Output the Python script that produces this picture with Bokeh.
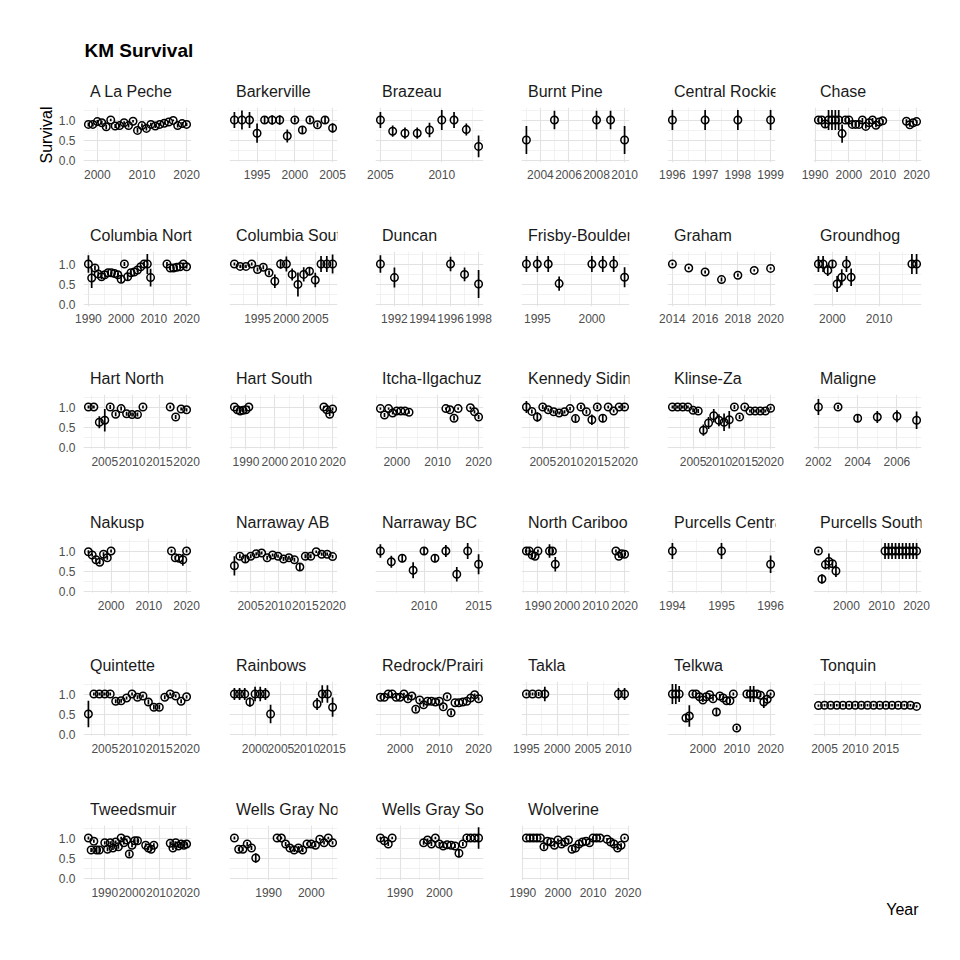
from bokeh.plotting import figure
from bokeh.layouts import row, column
from bokeh.models import Range1d, FixedTicker, PrintfTickFormatter
from bokeh.core.properties import value
from bokeh.embed import file_html
from bokeh.resources import INLINE

# ---------------- data ----------------
A_LA_PECHE_YEAR = [1998, 1999, 2000, 2001, 2002, 2003, 2004, 2005, 2006, 2007, 2008, 2009, 2010, 2011, 2012, 2013, 2014, 2015, 2016, 2017, 2018, 2019, 2020]
A_LA_PECHE_SURV = [0.89, 0.89, 0.96, 0.93, 0.83, 1.00, 0.85, 0.86, 0.93, 0.86, 0.97, 0.74, 0.86, 0.79, 0.89, 0.85, 0.89, 0.92, 0.95, 0.99, 0.86, 0.91, 0.89]
A_LA_PECHE_ERR = [0.05, 0.05, 0.04, 0.05, 0.06, 0.03, 0.05, 0.05, 0.04, 0.05, 0.03, 0.06, 0.05, 0.05, 0.04, 0.05, 0.04, 0.04, 0.03, 0.02, 0.05, 0.04, 0.04]

BARKERVILLE_YEAR = [1992, 1993, 1994, 1995, 1996, 1997, 1998, 1999, 2000, 2001, 2002, 2003, 2004, 2005]
BARKERVILLE_SURV = [1.00, 1.00, 1.00, 0.67, 1.00, 1.00, 1.00, 0.60, 1.00, 0.75, 1.00, 0.88, 1.00, 0.80]
BARKERVILLE_ERR = [0.20, 0.24, 0.20, 0.24, 0.10, 0.12, 0.12, 0.16, 0.06, 0.10, 0.06, 0.06, 0.08, 0.12]

BRAZEAU_YEAR = [2005, 2006, 2007, 2008, 2009, 2010, 2011, 2012, 2013]
BRAZEAU_SURV = [1.00, 0.72, 0.67, 0.67, 0.75, 1.00, 1.00, 0.76, 0.34]
BRAZEAU_ERR = [0.20, 0.14, 0.14, 0.14, 0.18, 0.25, 0.20, 0.15, 0.27]

BURNT_PINE_YEAR = [2003, 2005, 2008, 2009, 2010]
BURNT_PINE_SURV = [0.50, 1.00, 1.00, 1.00, 0.50]
BURNT_PINE_ERR = [0.35, 0.23, 0.23, 0.23, 0.35]

CENTRAL_ROCKIES_YEAR = [1996, 1997, 1998, 1999]
CENTRAL_ROCKIES_SURV = [1.00, 1.00, 1.00, 1.00]
CENTRAL_ROCKIES_ERR = [0.25, 0.25, 0.25, 0.25]

CHASE_YEAR = [1991, 1992, 1993, 1994, 1995, 1996, 1997, 1998, 1999, 2000, 2001, 2002, 2003, 2004, 2005, 2006, 2007, 2008, 2009, 2010, 2017, 2018, 2019, 2020]
CHASE_SURV = [1.00, 1.00, 0.90, 1.00, 1.00, 1.00, 1.00, 0.66, 1.00, 1.00, 0.89, 0.89, 0.89, 1.00, 0.84, 0.93, 1.00, 0.87, 0.95, 0.98, 0.97, 0.88, 0.93, 0.96]
CHASE_ERR = [0.05, 0.05, 0.08, 0.25, 0.25, 0.25, 0.25, 0.23, 0.05, 0.05, 0.05, 0.05, 0.05, 0.05, 0.05, 0.05, 0.05, 0.05, 0.05, 0.04, 0.05, 0.05, 0.04, 0.04]

COLUMBIA_NORTH_YEAR = [1990, 1991, 1992, 1993, 1994, 1995, 1996, 1997, 1998, 1999, 2000, 2001, 2002, 2003, 2004, 2005, 2006, 2007, 2008, 2009, 2014, 2015, 2016, 2017, 2018, 2019, 2020]
COLUMBIA_NORTH_SURV = [1.00, 0.65, 0.90, 0.75, 0.68, 0.73, 0.78, 0.78, 0.76, 0.73, 0.62, 1.00, 0.68, 0.78, 0.80, 0.85, 0.93, 1.00, 1.00, 0.66, 1.00, 0.90, 0.90, 0.92, 0.93, 1.00, 0.93]
COLUMBIA_NORTH_ERR = [0.22, 0.25, 0.06, 0.06, 0.06, 0.05, 0.05, 0.05, 0.05, 0.05, 0.08, 0.05, 0.08, 0.06, 0.05, 0.05, 0.05, 0.05, 0.25, 0.22, 0.05, 0.05, 0.04, 0.04, 0.04, 0.04, 0.04]

COLUMBIA_SOUTH_YEAR = [1991, 1992, 1993, 1994, 1995, 1996, 1997, 1998, 1999, 2000, 2001, 2002, 2003, 2004, 2005, 2006, 2007, 2008]
COLUMBIA_SOUTH_SURV = [1.00, 0.94, 0.94, 1.00, 0.86, 0.92, 0.78, 0.57, 1.00, 1.00, 0.74, 0.49, 0.74, 0.82, 0.60, 1.00, 1.00, 1.00]
COLUMBIA_SOUTH_ERR = [0.04, 0.04, 0.04, 0.04, 0.05, 0.05, 0.06, 0.17, 0.12, 0.19, 0.15, 0.30, 0.18, 0.10, 0.18, 0.20, 0.20, 0.24]

DUNCAN_YEAR = [1991, 1992, 1996, 1997, 1998]
DUNCAN_SURV = [1.00, 0.66, 1.00, 0.74, 0.50]
DUNCAN_ERR = [0.22, 0.25, 0.18, 0.17, 0.35]

FRISBY_BOULDER_YEAR = [1994, 1995, 1996, 1997, 2000, 2001, 2002, 2003]
FRISBY_BOULDER_SURV = [1.00, 1.00, 1.00, 0.51, 1.00, 1.00, 1.00, 0.67]
FRISBY_BOULDER_ERR = [0.20, 0.20, 0.20, 0.18, 0.20, 0.20, 0.20, 0.25]

GRAHAM_YEAR = [2014, 2015, 2016, 2017, 2018, 2019, 2020]
GRAHAM_SURV = [1.00, 0.90, 0.80, 0.61, 0.72, 0.84, 0.89]
GRAHAM_ERR = [0.03, 0.03, 0.04, 0.05, 0.04, 0.03, 0.03]

GROUNDHOG_YEAR = [1997, 1998, 1999, 2000, 2001, 2002, 2003, 2004, 2017, 2018]
GROUNDHOG_SURV = [1.00, 1.00, 0.84, 1.00, 0.50, 0.67, 1.00, 0.67, 1.00, 1.00]
GROUNDHOG_ERR = [0.20, 0.20, 0.14, 0.10, 0.20, 0.20, 0.20, 0.22, 0.25, 0.25]

HART_NORTH_YEAR = [2002, 2003, 2004, 2005, 2006, 2007, 2008, 2009, 2010, 2011, 2012, 2017, 2018, 2019, 2020]
HART_NORTH_SURV = [1.00, 1.00, 0.62, 0.67, 1.00, 0.82, 0.96, 0.83, 0.81, 0.81, 1.00, 1.00, 0.75, 0.95, 0.93]
HART_NORTH_ERR = [0.04, 0.04, 0.15, 0.28, 0.05, 0.05, 0.05, 0.05, 0.05, 0.05, 0.04, 0.04, 0.05, 0.04, 0.04]

HART_SOUTH_YEAR = [1986, 1987, 1988, 1989, 1990, 1991, 2017, 2018, 2019, 2020]
HART_SOUTH_SURV = [1.00, 0.93, 0.90, 0.92, 0.93, 1.00, 1.00, 0.93, 0.82, 0.95]
HART_SOUTH_ERR = [0.03, 0.04, 0.04, 0.04, 0.04, 0.03, 0.03, 0.04, 0.05, 0.04]

ITCHA_YEAR = [1996, 1997, 1998, 1999, 2000, 2001, 2002, 2003, 2012, 2013, 2014, 2015, 2018, 2019, 2020]
ITCHA_SURV = [0.96, 0.80, 0.96, 0.85, 0.90, 0.90, 0.90, 0.87, 0.96, 0.93, 0.72, 0.96, 0.98, 0.88, 0.75]
ITCHA_ERR = [0.03, 0.05, 0.03, 0.04, 0.04, 0.04, 0.04, 0.04, 0.03, 0.04, 0.06, 0.03, 0.03, 0.04, 0.05]

KENNEDY_YEAR = [2002, 2003, 2004, 2005, 2006, 2007, 2008, 2009, 2010, 2011, 2012, 2013, 2014, 2015, 2016, 2017, 2018, 2019, 2020]
KENNEDY_SURV = [1.00, 0.89, 0.75, 1.00, 0.93, 0.88, 0.85, 0.88, 0.96, 0.71, 1.00, 0.88, 0.68, 1.00, 0.72, 1.00, 0.90, 1.00, 1.00]
KENNEDY_ERR = [0.15, 0.05, 0.12, 0.05, 0.04, 0.04, 0.04, 0.04, 0.04, 0.08, 0.05, 0.05, 0.13, 0.05, 0.10, 0.04, 0.04, 0.03, 0.03]

KLINSE_ZA_YEAR = [2001, 2002, 2003, 2004, 2005, 2006, 2007, 2008, 2009, 2010, 2011, 2012, 2013, 2014, 2015, 2016, 2017, 2018, 2019, 2020]
KLINSE_ZA_SURV = [1.00, 1.00, 1.00, 1.00, 0.92, 0.90, 0.42, 0.60, 0.78, 0.67, 0.62, 0.68, 1.00, 0.75, 1.00, 0.90, 0.90, 0.90, 0.90, 0.97]
KLINSE_ZA_ERR = [0.04, 0.04, 0.04, 0.04, 0.05, 0.05, 0.14, 0.15, 0.17, 0.15, 0.22, 0.22, 0.05, 0.05, 0.04, 0.04, 0.04, 0.04, 0.04, 0.04]

MALIGNE_YEAR = [2002, 2003, 2004, 2005, 2006, 2007]
MALIGNE_SURV = [1.00, 1.00, 0.72, 0.75, 0.77, 0.67]
MALIGNE_ERR = [0.20, 0.05, 0.10, 0.15, 0.15, 0.22]

NAKUSP_YEAR = [1994, 1995, 1996, 1997, 1998, 1999, 2000, 2016, 2017, 2018, 2019, 2020]
NAKUSP_SURV = [0.98, 0.90, 0.78, 0.72, 0.92, 0.83, 1.00, 1.00, 0.83, 0.82, 0.78, 1.00]
NAKUSP_ERR = [0.04, 0.04, 0.05, 0.05, 0.05, 0.05, 0.04, 0.04, 0.05, 0.05, 0.15, 0.04]

NARRAWAY_AB_YEAR = [2002, 2003, 2004, 2005, 2006, 2007, 2008, 2009, 2010, 2011, 2012, 2013, 2014, 2015, 2016, 2017, 2018, 2019, 2020]
NARRAWAY_AB_SURV = [0.63, 0.87, 0.80, 0.87, 0.93, 0.95, 0.83, 0.90, 0.87, 0.80, 0.83, 0.78, 0.60, 0.87, 0.87, 0.98, 0.92, 0.92, 0.86]
NARRAWAY_AB_ERR = [0.24, 0.05, 0.10, 0.05, 0.04, 0.04, 0.05, 0.04, 0.04, 0.05, 0.05, 0.05, 0.10, 0.05, 0.05, 0.03, 0.04, 0.04, 0.04]

NARRAWAY_BC_YEAR = [2006, 2007, 2008, 2009, 2010, 2011, 2012, 2013, 2014, 2015]
NARRAWAY_BC_SURV = [1.00, 0.73, 0.82, 0.52, 1.00, 0.82, 1.00, 0.42, 1.00, 0.67]
NARRAWAY_BC_ERR = [0.17, 0.15, 0.10, 0.20, 0.08, 0.10, 0.15, 0.18, 0.20, 0.25]

NORTH_CARIBOO_YEAR = [1986, 1987, 1988, 1989, 1990, 1994, 1995, 1996, 2017, 2018, 2019, 2020]
NORTH_CARIBOO_SURV = [1.00, 1.00, 0.90, 0.87, 1.00, 1.00, 1.00, 0.67, 1.00, 0.87, 0.93, 0.92]
NORTH_CARIBOO_ERR = [0.04, 0.04, 0.06, 0.05, 0.04, 0.17, 0.05, 0.18, 0.04, 0.04, 0.04, 0.04]

PURCELLS_CENTRAL_YEAR = [1994, 1995, 1996]
PURCELLS_CENTRAL_SURV = [1.00, 1.00, 0.67]
PURCELLS_CENTRAL_ERR = [0.20, 0.20, 0.22]

PURCELLS_SOUTH_YEAR = [1992, 1993, 1994, 1995, 1996, 1997, 2011, 2012, 2013, 2014, 2015, 2016, 2017, 2018, 2019, 2020]
PURCELLS_SOUTH_SURV = [1.00, 0.30, 0.66, 0.74, 0.68, 0.50, 1.00, 1.00, 1.00, 1.00, 1.00, 1.00, 1.00, 1.00, 1.00, 1.00]
PURCELLS_SOUTH_ERR = [0.04, 0.12, 0.12, 0.20, 0.10, 0.15, 0.20, 0.20, 0.20, 0.20, 0.20, 0.20, 0.20, 0.20, 0.20, 0.20]

QUINTETTE_YEAR = [2002, 2003, 2004, 2005, 2006, 2007, 2008, 2009, 2010, 2011, 2012, 2013, 2014, 2015, 2016, 2017, 2018, 2019, 2020]
QUINTETTE_SURV = [0.50, 1.00, 1.00, 1.00, 1.00, 0.82, 0.83, 0.90, 1.00, 0.92, 0.95, 0.80, 0.67, 0.67, 0.92, 1.00, 0.95, 0.82, 0.93]
QUINTETTE_ERR = [0.33, 0.04, 0.04, 0.04, 0.04, 0.05, 0.05, 0.04, 0.04, 0.05, 0.04, 0.06, 0.06, 0.06, 0.05, 0.04, 0.04, 0.05, 0.04]

RAINBOWS_YEAR = [1996, 1997, 1998, 1999, 2000, 2001, 2002, 2003, 2012, 2013, 2014, 2015]
RAINBOWS_SURV = [1.00, 1.00, 1.00, 0.80, 1.00, 1.00, 1.00, 0.50, 0.75, 1.00, 1.00, 0.67]
RAINBOWS_ERR = [0.15, 0.15, 0.15, 0.12, 0.18, 0.18, 0.15, 0.23, 0.15, 0.22, 0.22, 0.24]

REDROCK_YEAR = [1995, 1996, 1997, 1998, 1999, 2000, 2001, 2002, 2003, 2004, 2005, 2006, 2007, 2008, 2009, 2010, 2011, 2012, 2013, 2014, 2015, 2016, 2017, 2018, 2019, 2020]
REDROCK_SURV = [0.92, 0.92, 1.00, 1.00, 0.92, 0.92, 1.00, 0.88, 0.95, 0.62, 0.85, 0.73, 0.82, 0.82, 0.80, 0.82, 0.68, 0.93, 0.53, 0.78, 0.78, 0.80, 0.82, 0.90, 0.98, 0.88]
REDROCK_ERR = [0.04, 0.04, 0.03, 0.03, 0.04, 0.04, 0.03, 0.04, 0.04, 0.06, 0.04, 0.05, 0.04, 0.04, 0.04, 0.04, 0.05, 0.04, 0.06, 0.04, 0.04, 0.04, 0.04, 0.04, 0.03, 0.04]

TAKLA_YEAR = [1995, 1996, 1997, 1998, 2010, 2011]
TAKLA_SURV = [1.00, 1.00, 1.00, 1.00, 1.00, 1.00]
TAKLA_ERR = [0.04, 0.04, 0.05, 0.18, 0.15, 0.15]

TELKWA_YEAR = [1991, 1992, 1993, 1995, 1996, 1997, 1998, 1999, 2000, 2001, 2002, 2003, 2004, 2005, 2006, 2007, 2008, 2009, 2010, 2013, 2014, 2015, 2016, 2017, 2018, 2019, 2020]
TELKWA_SURV = [1.00, 1.00, 1.00, 0.40, 0.45, 1.00, 1.00, 0.93, 0.85, 0.93, 0.98, 0.88, 0.55, 0.95, 0.90, 0.83, 0.83, 1.00, 0.15, 1.00, 1.00, 1.00, 1.00, 0.97, 0.80, 0.87, 1.00]
TELKWA_ERR = [0.25, 0.25, 0.20, 0.10, 0.27, 0.04, 0.04, 0.05, 0.05, 0.05, 0.04, 0.05, 0.10, 0.05, 0.05, 0.05, 0.05, 0.04, 0.05, 0.05, 0.20, 0.20, 0.05, 0.05, 0.15, 0.05, 0.04]

TONQUIN_YEAR = [2004, 2005, 2006, 2007, 2008, 2009, 2010, 2011, 2012, 2013, 2014, 2015, 2016, 2017, 2018, 2019, 2020]
TONQUIN_SURV = [0.71, 0.72, 0.72, 0.72, 0.72, 0.72, 0.72, 0.72, 0.72, 0.72, 0.72, 0.72, 0.72, 0.72, 0.72, 0.72, 0.69]
TONQUIN_ERR = [0.03, 0.03, 0.03, 0.03, 0.03, 0.03, 0.03, 0.03, 0.03, 0.03, 0.03, 0.03, 0.03, 0.03, 0.03, 0.03, 0.03]

TWEEDSMUIR_YEAR = [1984, 1985, 1986, 1987, 1988, 1990, 1991, 1992, 1993, 1994, 1995, 1996, 1997, 1998, 1999, 2000, 2001, 2002, 2005, 2006, 2007, 2008, 2014, 2015, 2016, 2017, 2018, 2019, 2020]
TWEEDSMUIR_SURV = [1.00, 0.70, 0.92, 0.70, 0.70, 0.88, 0.72, 0.88, 0.75, 0.90, 0.78, 1.00, 0.88, 0.95, 0.60, 0.82, 0.93, 0.93, 0.82, 0.75, 0.72, 0.82, 0.87, 0.75, 0.88, 0.80, 0.85, 0.82, 0.85]
TWEEDSMUIR_ERR = [0.04, 0.05, 0.04, 0.05, 0.05, 0.04, 0.05, 0.04, 0.05, 0.04, 0.05, 0.03, 0.04, 0.04, 0.06, 0.05, 0.04, 0.04, 0.05, 0.05, 0.05, 0.05, 0.04, 0.05, 0.04, 0.05, 0.04, 0.04, 0.04]

WELLS_GRAY_NORTH_YEAR = [1982, 1983, 1984, 1985, 1986, 1987, 1992, 1993, 1994, 1995, 1996, 1997, 1998, 1999, 2000, 2001, 2002, 2003, 2004, 2005]
WELLS_GRAY_NORTH_SURV = [1.00, 0.72, 0.72, 0.85, 0.75, 0.50, 1.00, 1.00, 0.85, 0.75, 0.70, 0.75, 0.70, 0.85, 0.85, 0.82, 0.97, 0.88, 1.00, 0.88]
WELLS_GRAY_NORTH_ERR = [0.04, 0.05, 0.05, 0.05, 0.05, 0.12, 0.03, 0.03, 0.05, 0.05, 0.05, 0.05, 0.05, 0.04, 0.04, 0.05, 0.03, 0.04, 0.03, 0.04]

WELLS_GRAY_SOUTH_YEAR = [1985, 1986, 1987, 1988, 1996, 1997, 1998, 1999, 2000, 2001, 2002, 2003, 2004, 2005, 2006, 2007, 2008, 2009, 2010]
WELLS_GRAY_SOUTH_SURV = [1.00, 0.93, 0.85, 1.00, 0.88, 0.95, 0.85, 1.00, 0.85, 0.80, 0.83, 0.82, 0.80, 0.62, 0.85, 1.00, 1.00, 1.00, 1.00]
WELLS_GRAY_SOUTH_ERR = [0.03, 0.04, 0.05, 0.03, 0.05, 0.04, 0.05, 0.03, 0.05, 0.05, 0.05, 0.05, 0.05, 0.10, 0.05, 0.05, 0.05, 0.05, 0.27]

WOLVERINE_YEAR = [1991, 1992, 1993, 1994, 1995, 1996, 1997, 1998, 1999, 2000, 2001, 2002, 2003, 2004, 2005, 2006, 2007, 2008, 2009, 2010, 2011, 2012, 2014, 2015, 2016, 2017, 2018, 2019]
WOLVERINE_SURV = [1.00, 1.00, 1.00, 1.00, 1.00, 0.78, 0.92, 0.90, 0.82, 0.95, 0.85, 0.90, 0.95, 0.72, 0.75, 0.85, 0.90, 0.92, 0.88, 1.00, 1.00, 1.00, 0.97, 0.90, 0.85, 0.75, 0.82, 1.00]
WOLVERINE_ERR = [0.03, 0.03, 0.03, 0.03, 0.03, 0.06, 0.04, 0.04, 0.05, 0.04, 0.05, 0.04, 0.04, 0.05, 0.05, 0.05, 0.04, 0.04, 0.04, 0.03, 0.03, 0.03, 0.03, 0.04, 0.05, 0.05, 0.05, 0.03]

HERD_NAMES = ["A La Peche", "Barkerville", "Brazeau", "Burnt Pine", "Central Rockies", "Chase",
              "Columbia North", "Columbia South", "Duncan", "Frisby-Boulder", "Graham", "Groundhog",
              "Hart North", "Hart South", "Itcha-Ilgachuz", "Kennedy Siding", "Klinse-Za", "Maligne",
              "Nakusp", "Narraway AB", "Narraway BC", "North Cariboo", "Purcells Central", "Purcells South",
              "Quintette", "Rainbows", "Redrock/Prairie Creek", "Takla", "Telkwa", "Tonquin",
              "Tweedsmuir", "Wells Gray North", "Wells Gray South", "Wolverine"]

X_TICKS = [[2000, 2010, 2020], [1995, 2000, 2005], [2005, 2010], [2004, 2006, 2008, 2010], [1996, 1997, 1998, 1999], [1990, 2000, 2010, 2020],
           [1990, 2000, 2010, 2020], [1995, 2000, 2005], [1992, 1994, 1996, 1998], [1995, 2000], [2014, 2016, 2018, 2020], [2000, 2010],
           [2005, 2010, 2015, 2020], [1990, 2000, 2010, 2020], [2000, 2010, 2020], [2005, 2010, 2015, 2020], [2005, 2010, 2015, 2020], [2002, 2004, 2006],
           [2000, 2010, 2020], [2005, 2010, 2015, 2020], [2010, 2015], [1990, 2000, 2010, 2020], [1994, 1995, 1996], [2000, 2010, 2020],
           [2005, 2010, 2015, 2020], [2000, 2005, 2010, 2015], [2000, 2010, 2020], [1995, 2000, 2005, 2010], [2000, 2010, 2020], [2005, 2010, 2015],
           [1990, 2000, 2010, 2020], [1990, 2000], [1990, 2000], [1990, 2000, 2010, 2020]]

Y_TICKS = [0.0, 0.5, 1.0]
Y_LIMITS = [0.0, 1.25]

SERIES = [
    (A_LA_PECHE_YEAR, A_LA_PECHE_SURV, A_LA_PECHE_ERR),
    (BARKERVILLE_YEAR, BARKERVILLE_SURV, BARKERVILLE_ERR),
    (BRAZEAU_YEAR, BRAZEAU_SURV, BRAZEAU_ERR),
    (BURNT_PINE_YEAR, BURNT_PINE_SURV, BURNT_PINE_ERR),
    (CENTRAL_ROCKIES_YEAR, CENTRAL_ROCKIES_SURV, CENTRAL_ROCKIES_ERR),
    (CHASE_YEAR, CHASE_SURV, CHASE_ERR),
    (COLUMBIA_NORTH_YEAR, COLUMBIA_NORTH_SURV, COLUMBIA_NORTH_ERR),
    (COLUMBIA_SOUTH_YEAR, COLUMBIA_SOUTH_SURV, COLUMBIA_SOUTH_ERR),
    (DUNCAN_YEAR, DUNCAN_SURV, DUNCAN_ERR),
    (FRISBY_BOULDER_YEAR, FRISBY_BOULDER_SURV, FRISBY_BOULDER_ERR),
    (GRAHAM_YEAR, GRAHAM_SURV, GRAHAM_ERR),
    (GROUNDHOG_YEAR, GROUNDHOG_SURV, GROUNDHOG_ERR),
    (HART_NORTH_YEAR, HART_NORTH_SURV, HART_NORTH_ERR),
    (HART_SOUTH_YEAR, HART_SOUTH_SURV, HART_SOUTH_ERR),
    (ITCHA_YEAR, ITCHA_SURV, ITCHA_ERR),
    (KENNEDY_YEAR, KENNEDY_SURV, KENNEDY_ERR),
    (KLINSE_ZA_YEAR, KLINSE_ZA_SURV, KLINSE_ZA_ERR),
    (MALIGNE_YEAR, MALIGNE_SURV, MALIGNE_ERR),
    (NAKUSP_YEAR, NAKUSP_SURV, NAKUSP_ERR),
    (NARRAWAY_AB_YEAR, NARRAWAY_AB_SURV, NARRAWAY_AB_ERR),
    (NARRAWAY_BC_YEAR, NARRAWAY_BC_SURV, NARRAWAY_BC_ERR),
    (NORTH_CARIBOO_YEAR, NORTH_CARIBOO_SURV, NORTH_CARIBOO_ERR),
    (PURCELLS_CENTRAL_YEAR, PURCELLS_CENTRAL_SURV, PURCELLS_CENTRAL_ERR),
    (PURCELLS_SOUTH_YEAR, PURCELLS_SOUTH_SURV, PURCELLS_SOUTH_ERR),
    (QUINTETTE_YEAR, QUINTETTE_SURV, QUINTETTE_ERR),
    (RAINBOWS_YEAR, RAINBOWS_SURV, RAINBOWS_ERR),
    (REDROCK_YEAR, REDROCK_SURV, REDROCK_ERR),
    (TAKLA_YEAR, TAKLA_SURV, TAKLA_ERR),
    (TELKWA_YEAR, TELKWA_SURV, TELKWA_ERR),
    (TONQUIN_YEAR, TONQUIN_SURV, TONQUIN_ERR),
    (TWEEDSMUIR_YEAR, TWEEDSMUIR_SURV, TWEEDSMUIR_ERR),
    (WELLS_GRAY_NORTH_YEAR, WELLS_GRAY_NORTH_SURV, WELLS_GRAY_NORTH_ERR),
    (WELLS_GRAY_SOUTH_YEAR, WELLS_GRAY_SOUTH_SURV, WELLS_GRAY_SOUTH_ERR),
    (WOLVERINE_YEAR, WOLVERINE_SURV, WOLVERINE_ERR),
]

# ---------------- styling / layout ----------------
FONT = "Liberation Sans"
NCOL = 6
FRAME_W = 108
FRAME_H = 55
LEFT0 = 83
LEFT = 19
RIGHT = 19
STRIP_H = 26
PANEL_H = [118, 117, 118, 117, 118, 118]
HEADER_H = 81
MAJOR_GRID = "#e2e2e2"
MINOR_GRID = "#ededed"


def minor_between(ticks):
    step = ticks[1] - ticks[0]
    ext = [ticks[0] - step] + list(ticks) + [ticks[-1] + step]
    return [(a + b) / 2 for a, b in zip(ext[:-1], ext[1:])]


def make_strip(name, col):
    left = LEFT0 if col == 0 else LEFT
    s = figure(width=left + FRAME_W + RIGHT, height=STRIP_H,
               x_range=Range1d(0, 1), y_range=Range1d(0, 1),
               x_axis_location=None, y_axis_location=None,
               min_border_left=left, min_border_right=RIGHT, min_border_top=0, min_border_bottom=0,
               outline_line_color=None, toolbar_location=None, tools="", output_backend="svg")
    s.grid.visible = False
    s.text(x=[0], y=[0], text=[name], x_offset=6.5, y_offset=-16,
           text_font=value(FONT), text_font_size="16px", text_color="#1a1a1a",
           text_align="left", text_baseline="alphabetic")
    return s


def make_panel(idx, col, height):
    years, surv, err = SERIES[idx]
    lo = [s - e for s, e in zip(surv, err)]
    hi = [s + e for s, e in zip(surv, err)]
    span = max(years) - min(years)
    xr = Range1d(min(years) - 0.05 * span, max(years) + 0.05 * span)
    ypad = 0.05 * (Y_LIMITS[1] - Y_LIMITS[0])
    yr = Range1d(Y_LIMITS[0] - ypad, Y_LIMITS[1] + ypad)
    left = LEFT0 if col == 0 else LEFT
    p = figure(width=left + FRAME_W + RIGHT, height=height, x_range=xr, y_range=yr,
               y_axis_location="left" if col == 0 else None,
               min_border_left=left, min_border_right=RIGHT, min_border_top=0,
               min_border_bottom=height - FRAME_H,
               outline_line_color=None, toolbar_location=None, tools="", output_backend="svg")
    ticks = X_TICKS[idx]
    xt = FixedTicker(ticks=ticks, minor_ticks=minor_between(ticks))
    yt = FixedTicker(ticks=Y_TICKS, minor_ticks=minor_between(Y_TICKS))
    p.xaxis.ticker = xt
    p.xaxis.formatter = PrintfTickFormatter(format="%d")
    p.xgrid.ticker = xt
    p.ygrid.ticker = yt
    for g in p.grid:
        g.grid_line_color = MAJOR_GRID
        g.grid_line_width = 1.1
        g.minor_grid_line_color = MINOR_GRID
        g.minor_grid_line_width = 0.7
    axes = list(p.xaxis) + (list(p.yaxis) if col == 0 else [])
    for ax in axes:
        ax.axis_line_color = None
        ax.major_tick_line_color = None
        ax.minor_tick_line_color = None
        ax.major_tick_out = 0
        ax.major_tick_in = 0
        ax.major_label_text_font = FONT
        ax.major_label_text_font_size = "12px"
        ax.major_label_text_color = "#4d4d4d"
    p.xaxis.major_label_standoff = 3
    if col == 0:
        p.yaxis.ticker = yt
        p.yaxis.formatter = PrintfTickFormatter(format="%.1f")
        p.yaxis.major_label_standoff = 4
        if idx == 0:
            p.yaxis.axis_label = "Survival"
            p.yaxis.axis_label_text_font = FONT
            p.yaxis.axis_label_text_font_size = "16px"
            p.yaxis.axis_label_text_font_style = "normal"
            p.yaxis.axis_label_text_color = "#000000"
            p.yaxis.axis_label_standoff = 1
    p.segment(x0=years, y0=lo, x1=years, y1=hi, line_color="black", line_width=1.7)
    p.scatter(years, surv, marker="circle", size=7.5, fill_color=None,
              line_color="black", line_width=1.5)
    return p


header = figure(width=LEFT0 + FRAME_W + RIGHT + (NCOL - 1) * (LEFT + FRAME_W + RIGHT), height=HEADER_H,
                x_range=Range1d(0, 940), y_range=Range1d(HEADER_H, 0),
                x_axis_location=None, y_axis_location=None,
                min_border_left=0, min_border_right=0, min_border_top=0, min_border_bottom=0,
                outline_line_color=None, toolbar_location=None, tools="", output_backend="svg")
header.grid.visible = False
header.text(x=[84], y=[50], text=["KM Survival"], text_font=value(FONT), text_font_size="19px",
            text_font_style="bold", text_color="#000000", text_align="left", text_baseline="alphabetic")

rows = [header]
n = len(HERD_NAMES)
for r in range((n + NCOL - 1) // NCOL):
    cells = []
    for c in range(NCOL):
        idx = r * NCOL + c
        if idx >= n:
            break
        cells.append(column(make_strip(HERD_NAMES[idx], c), make_panel(idx, c, PANEL_H[r]), spacing=0))
    if len(cells) < NCOL:
        wfill = (NCOL - len(cells)) * (LEFT + FRAME_W + RIGHT)
        hfill = STRIP_H + PANEL_H[r]
        yf = figure(width=wfill, height=hfill, x_range=Range1d(0, wfill), y_range=Range1d(hfill, 0),
                    x_axis_location=None, y_axis_location=None,
                    min_border_left=0, min_border_right=0, min_border_top=0, min_border_bottom=0,
                    outline_line_color=None, toolbar_location=None, tools="", output_backend="svg")
        yf.grid.visible = False
        yf.text(x=[wfill - 22], y=[110], text=["Year"], text_font=value(FONT), text_font_size="16px",
                text_color="#000000", text_align="right", text_baseline="alphabetic")
        cells.append(yf)
    rows.append(row(*cells, spacing=0))

layout = column(*rows, spacing=0)
open("out.html", "w").write(file_html(layout, INLINE))
